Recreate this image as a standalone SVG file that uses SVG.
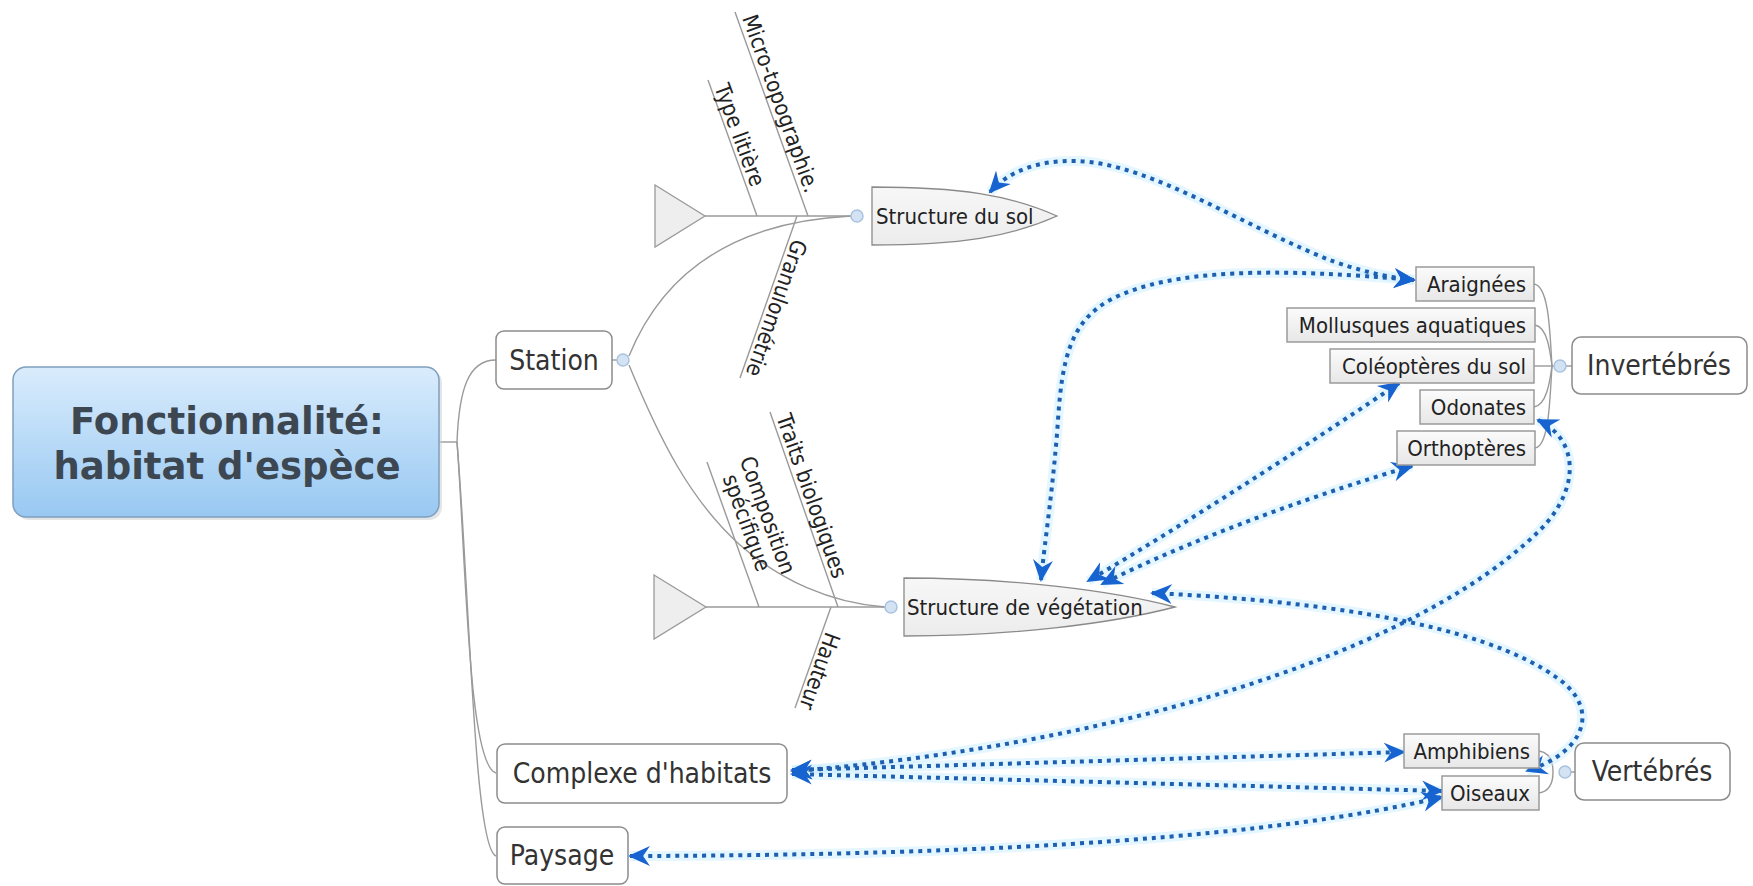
<svg xmlns="http://www.w3.org/2000/svg" width="1753" height="886" viewBox="0 0 1753 886">
<defs>
<linearGradient id="gCentral" x1="0" y1="0" x2="0" y2="1"><stop offset="0" stop-color="#d9ecfc"/><stop offset="1" stop-color="#98c8f2"/></linearGradient>
<linearGradient id="gSub" x1="0" y1="0" x2="0" y2="1"><stop offset="0" stop-color="#fbfbfb"/><stop offset="1" stop-color="#e7e7e7"/></linearGradient>
<linearGradient id="gHead" x1="0" y1="0" x2="0" y2="1"><stop offset="0" stop-color="#f7f7f7"/><stop offset="1" stop-color="#ececec"/></linearGradient>
<marker id="arr" markerUnits="userSpaceOnUse" viewBox="0 0 22 22" markerWidth="22" markerHeight="22" refX="20" refY="11" orient="auto-start-reverse"><path d="M0,1 L22,11 L0,21 L7,11 Z" fill="#1763cf"/></marker>
<style>
text { font-family: "DejaVu Sans Condensed", "DejaVu Sans", sans-serif; font-stretch: condensed; }
.title { font-family: "DejaVu Sans", sans-serif; font-stretch: normal; font-size: 37px; font-weight: bold; fill: #3d4752; text-anchor: middle; }
.t1 { font-size: 28px; fill: #333; text-anchor: middle; }
.t2 { font-size: 22px; fill: #222; }
.tr { text-anchor: end; }
.box1 { fill: #fff; stroke: #8c8c8c; stroke-width: 1.5; }
.box2 { fill: url(#gSub); stroke: #9a9a9a; stroke-width: 1.5; }
.head { fill: url(#gHead); stroke: #8a8a8a; stroke-width: 1.3; }
.tail { fill: #eeeeee; stroke: #9a9a9a; stroke-width: 1.3; }
.ln { fill: none; stroke: #9a9a9a; stroke-width: 1.4; }
.dot { fill: #d4e3f3; stroke: #a9c3df; stroke-width: 1.5; }
.halo { fill: none; stroke: #cdeeff; stroke-width: 10; stroke-opacity: 0.55; }
.rel { fill: none; stroke: #1f5fb0; stroke-width: 4; stroke-dasharray: 4 5; marker-start: url(#arr); marker-end: url(#arr); }
</style>
</defs>

<g id="connectors">
  <path class="ln" d="M439,442 L457,442"/>
  <path class="ln" d="M457,442 C459,390 468,360 496,360"/>
  <path class="ln" d="M457,442 C466,560 468,765 496,773"/>
  <path class="ln" d="M457,442 C470,600 474,848 496,856"/>
  <path class="ln" d="M612,360 L617,360"/>
  <path class="ln" d="M629,356 C662,275 730,222 851,216"/>
  <path class="ln" d="M629,365 C660,440 690,500 740,545 C780,580 830,603 885,607"/>
  <path class="ln" d="M705,216 L851,216"/>
  <path class="ln" d="M706,607 L885,607"/>
  <path class="ln" d="M735,12 L808,216"/>
  <path class="ln" d="M708,80 L757,216"/>
  <path class="ln" d="M797,216 L740,378"/>
  <path class="ln" d="M707,462 L759,607"/>
  <path class="ln" d="M770,412 L838,607"/>
  <path class="ln" d="M831,607 L795,708"/>
  <path class="ln" d="M1534,284 C1550,286 1550,340 1552,366"/>
  <path class="ln" d="M1535,325 C1547,327 1550,350 1552,366"/>
  <path class="ln" d="M1534,366 L1554,366"/>
  <path class="ln" d="M1534,407 C1547,405 1550,380 1552,366"/>
  <path class="ln" d="M1535,448 C1550,446 1550,392 1552,366"/>
  <path class="ln" d="M1566,366 L1572,366"/>
  <path class="ln" d="M1539,751 C1552,753 1553,765 1553,772"/>
  <path class="ln" d="M1539,793 C1552,791 1553,779 1553,772"/>
  <path class="ln" d="M1571,772 L1575,772"/>
  <circle class="dot" cx="623" cy="360" r="6"/>
  <circle class="dot" cx="857" cy="216" r="6"/>
  <circle class="dot" cx="891" cy="607" r="6"/>
  <circle class="dot" cx="1560" cy="366" r="6"/>
  <circle class="dot" cx="1565" cy="772" r="6"/>
</g>

<g id="relations">
  <path class="halo" d="M990,192 C1010,170 1040,160 1077,161 C1150,163 1250,230 1335,262 C1370,274 1395,278 1414,280"/>
  <path class="halo" d="M1414,280 C1280,268 1170,268 1110,300 C1070,322 1062,360 1058,420 C1054,480 1045,540 1041,580"/>
  <path class="halo" d="M1399,383 C1330,430 1200,515 1088,581"/>
  <path class="halo" d="M1412,466 C1330,490 1200,535 1102,584"/>
  <path class="halo" d="M1152,593 C1300,600 1480,620 1560,680 C1600,710 1585,752 1527,771"/>
  <path class="halo" d="M1538,420 C1580,440 1580,490 1540,530 C1460,610 1300,680 1100,725 C1000,748 880,765 792,771"/>
  <path class="halo" d="M792,770 L1404,752"/>
  <path class="halo" d="M792,774 L1442,791"/>
  <path class="halo" d="M630,856 Q1200,855 1442,797"/>

  <path class="rel" d="M990,192 C1010,170 1040,160 1077,161 C1150,163 1250,230 1335,262 C1370,274 1395,278 1414,280"/>
  <path class="rel" d="M1414,280 C1280,268 1170,268 1110,300 C1070,322 1062,360 1058,420 C1054,480 1045,540 1041,580"/>
  <path class="rel" d="M1399,383 C1330,430 1200,515 1088,581"/>
  <path class="rel" d="M1412,466 C1330,490 1200,535 1102,584"/>
  <path class="rel" d="M1152,593 C1300,600 1480,620 1560,680 C1600,710 1585,752 1527,771"/>
  <path class="rel" d="M1538,420 C1580,440 1580,490 1540,530 C1460,610 1300,680 1100,725 C1000,748 880,765 792,771"/>
  <path class="rel" d="M792,770 L1404,752"/>
  <path class="rel" d="M792,774 L1442,791"/>
  <path class="rel" d="M630,856 Q1200,855 1442,797"/>
</g>

<g id="central">
  <rect x="16" y="370" width="426" height="150" rx="13" fill="#c8ccd0" opacity="0.5"/>
  <rect x="13" y="367" width="426" height="150" rx="13" fill="url(#gCentral)" stroke="#7f9fbf" stroke-width="1.5"/>
  <text class="title" x="227" y="434">Fonctionnalité:</text>
  <text class="title" x="227" y="479">habitat d'espèce</text>
</g>

<g id="station">
  <rect class="box1" x="496" y="331" width="116" height="58" rx="8"/>
  <text class="t1" x="554" y="370">Station</text>
</g>

<g id="complexe">
  <rect class="box1" x="497" y="744" width="290" height="59" rx="8"/>
  <text class="t1" x="642" y="783">Complexe d'habitats</text>
</g>

<g id="paysage">
  <rect class="box1" x="497" y="827" width="131" height="57" rx="8"/>
  <text class="t1" x="562" y="865">Paysage</text>
</g>

<g id="structure-sol">
  <path class="tail" d="M655,185 L705,216 L655,247 Z"/>
  <path class="head" d="M872,187 C960,187 1010,195 1057,216 C1010,237 960,245 872,245 Z"/>
  <text class="t2" x="876" y="224">Structure du sol</text>
</g>

<g id="micro-topographie">
  <text class="t2" transform="translate(742,18) rotate(70.2)">Micro-topographie.</text>
</g>
<g id="type-litiere">
  <text class="t2" transform="translate(714,87) rotate(69.8)">Type litière</text>
</g>
<g id="granulometrie">
  <text class="t2" transform="translate(793,238) rotate(109.3)">Granulométrie</text>
</g>

<g id="structure-vegetation">
  <path class="tail" d="M654,575 L706,607 L654,639 Z"/>
  <path class="head" d="M904,578 C1010,578 1110,590 1175,607 C1110,624 1010,636 904,636 Z"/>
  <text class="t2" x="907" y="615">Structure de végétation</text>
</g>

<g id="composition-specifique">
  <text class="t2" text-anchor="middle" transform="translate(719,468) rotate(70)"><tspan x="61" y="-22">Composition</tspan><tspan x="61" y="0">spécifique</tspan></text>
</g>
<g id="traits-biologiques">
  <text class="t2" transform="translate(776,417) rotate(70.6)">Traits biologiques</text>
</g>
<g id="hauteur">
  <text class="t2" transform="translate(826,631) rotate(109.6)">Hauteur</text>
</g>

<g id="araignees">
  <rect class="box2" x="1416" y="267" width="118" height="34"/>
  <text class="t2 tr" x="1526" y="292">Araignées</text>
</g>
<g id="mollusques">
  <rect class="box2" x="1287" y="308" width="248" height="34"/>
  <text class="t2 tr" x="1526" y="333">Mollusques aquatiques</text>
</g>
<g id="coleopteres">
  <rect class="box2" x="1330" y="349" width="204" height="34"/>
  <text class="t2 tr" x="1526" y="374">Coléoptères du sol</text>
</g>
<g id="odonates">
  <rect class="box2" x="1420" y="390" width="114" height="34"/>
  <text class="t2 tr" x="1526" y="415">Odonates</text>
</g>
<g id="orthopteres">
  <rect class="box2" x="1397" y="431" width="138" height="34"/>
  <text class="t2 tr" x="1526" y="456">Orthoptères</text>
</g>
<g id="invertebres">
  <rect class="box1" x="1572" y="337" width="175" height="57" rx="9"/>
  <text class="t1" x="1659" y="375">Invertébrés</text>
</g>

<g id="amphibiens">
  <rect class="box2" x="1404" y="734" width="135" height="34"/>
  <text class="t2 tr" x="1530" y="759">Amphibiens</text>
</g>
<g id="oiseaux">
  <rect class="box2" x="1442" y="776" width="97" height="34"/>
  <text class="t2 tr" x="1530" y="801">Oiseaux</text>
</g>
<g id="vertebres">
  <rect class="box1" x="1575" y="743" width="155" height="57" rx="9"/>
  <text class="t1" x="1652" y="781">Vertébrés</text>
</g>
</svg>
